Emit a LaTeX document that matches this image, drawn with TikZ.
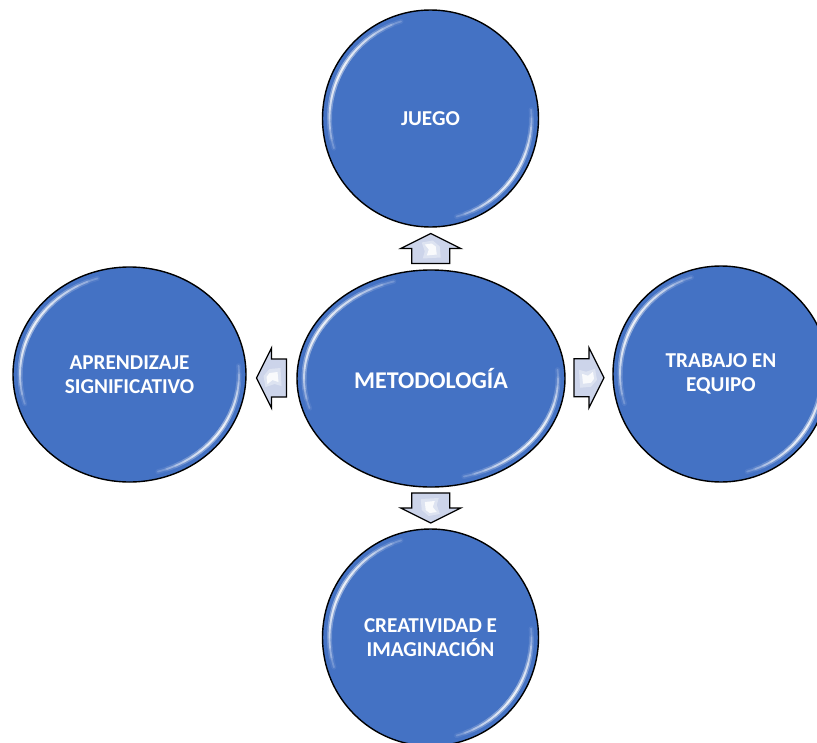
\documentclass[tikz,border=0pt]{standalone}
\usepackage{fontspec}
\setmainfont{Carlito}
\usetikzlibrary{shapes.geometric,calc}
\definecolor{bubblefill}{HTML}{4472C4}
\definecolor{arrowfill}{RGB}{204,212,234}
\newcommand\glossarc[6]{%
  \foreach \k in {1,...,8}{%
    \pgfmathsetmacro\sa{#5-#6*\k/8}%
    \pgfmathsetmacro\ea{#5+#6*\k/8}%
    \draw[white, line width=5pt, opacity=0.07, line cap=round]
      ([shift={(#1pt,#2pt)}]\sa:#3pt and #4pt) arc[start angle=\sa, end angle=\ea, x radius=#3pt, y radius=#4pt];
    \draw[white, line width=1.8pt, opacity=0.2, line cap=round]
      ([shift={(#1pt,#2pt)}]\sa:#3pt and #4pt) arc[start angle=\sa, end angle=\ea, x radius=#3pt, y radius=#4pt];
  }}
\newcommand\gloss[4]{%
  \pgfmathsetmacro\grx{#3-7}\pgfmathsetmacro\gry{#4-7}%
  \glossarc{#1}{#2}{\grx}{\gry}{152}{45}%
  \glossarc{#1}{#2}{\grx}{\gry}{-35}{40}}
\newcommand\blockarrow[2]{%
  \draw[blockarrow, shift={(#1)}, rotate=#2]
    (-15,-19) -- (0,-19) -- (0,-30) -- (15,0) -- (0,30) -- (0,19) -- (-15,19) -- cycle;
  \fill[white, opacity=0.35, shift={(#1)}, rotate=#2]
    (-9,-10) -- (2,-9) -- (8,-2) -- (6,9) -- (-3,6) -- (-10,8) -- cycle;
  \fill[white, opacity=0.85, shift={(#1)}, rotate=#2]
    (-6,-6) -- (2,-5) -- (5,-1) -- (4,6) -- (-1,2) -- (-7,4) -- cycle;}
\begin{document}
\begin{tikzpicture}[x=1pt,y=1pt,
  bubbletext/.style={font=\fontsize{21.2}{23.5}\selectfont\bfseries, text=white, align=center},
  bubble/.style={ellipse, draw=black, line width=1.4pt, fill=bubblefill, inner sep=0pt, bubbletext},
  blockarrow/.style={draw=black, line width=1.2pt, fill=arrowfill, line join=miter},
]
\useasboundingbox (0,0) rectangle (817,-742);
\fill[white] (0,0) rectangle (817,-742);
\begin{scope}
\clip (0,0) rectangle (817,-742);
\node[bubble, minimum width=216pt, minimum height=217pt] (juego) at (430.5,-118.5) {JUEGO};
\gloss{430.5}{-118.5}{108}{108.5}
\node[bubble, minimum width=233pt, minimum height=215pt] (aprend) at (129.5,-374.5) {APRENDIZAJE\\SIGNIFICATIVO};
\gloss{129.5}{-374.5}{116.5}{107.5}
\node[bubble, minimum width=268pt, minimum height=217pt, font=\fontsize{24}{28}\selectfont\bfseries] (meto) at (431,-378.5) {METODOLOGÍA};
\gloss{431}{-378.5}{134}{108.5}
\node[bubble, minimum width=216pt, minimum height=216pt] (trabajo) at (721,-374) {TRABAJO EN\\EQUIPO};
\gloss{721}{-374}{108}{108}
\node[bubble, minimum width=216pt, minimum height=217pt] (creat) at (430.5,-637.5) {CREATIVIDAD E\\IMAGINACIÓN};
\gloss{430.5}{-637.5}{108}{108.5}
\coordinate (ua) at ($(juego.south)!0.5!(meto.north)$);
\coordinate (da) at ($(meto.south)!0.5!(creat.north)$);
\coordinate (la) at ($(aprend.east)!0.5!(meto.west)+(0,-1.5)$);
\coordinate (ra) at ($(meto.east)!0.5!(trabajo.west)+(0,-1.5)$);
\blockarrow{ua}{90}
\blockarrow{da}{-90}
\blockarrow{la}{180}
\blockarrow{ra}{0}
\end{scope}
\end{tikzpicture}
\end{document}
